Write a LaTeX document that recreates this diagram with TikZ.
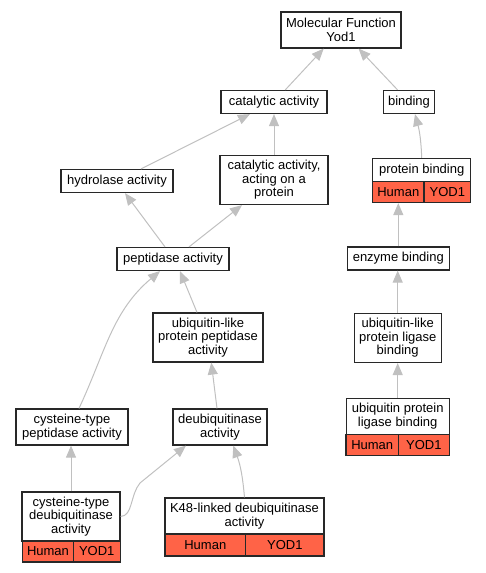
\documentclass[tikz,border=0pt]{standalone}
\usepackage{fontspec}
\setmainfont{Liberation Sans}
\usepackage{xcolor}
\usepackage{tikz}
\usetikzlibrary{arrows.meta,positioning}
\definecolor{annot}{RGB}{255,99,71}
\definecolor{edgegray}{RGB}{192,192,192}
\definecolor{boxline}{RGB}{40,40,40}

\begin{document}
\begin{tikzpicture}[
			x=1pt, y=-1pt,
			term/.style={rectangle, draw=boxline, line width=1.2pt, fill=white, inner sep=0pt, align=center, font=\fontsize{13}{13.5}\selectfont},
			annocell/.style={rectangle, draw=boxline, line width=1.2pt, fill=annot, inner sep=0pt, minimum height=21pt, font=\fontsize{13}{13.5}\selectfont},
			isa/.style={draw=edgegray, line width=1pt, -{Triangle[length=12pt, width=10pt, fill=edgegray]}}
			]
			\useasboundingbox (0,0) rectangle (485,573);
			
			% Top of the ontology
			\node[term, minimum width=120pt, minimum height=36pt] (mf) at (341,30) {Molecular Function\\Yod1};
			\node[term, minimum width=106pt, minimum height=23pt] (cat) at (274,102) {catalytic activity};
			\node[term, minimum width=51pt, minimum height=23pt] (bind) at (409,102) {binding};
			
			% Catalytic branch
			\node[term, minimum width=112pt, minimum height=23pt] (hyd) at (117,181) {hydrolase activity};
			\node[term, minimum width=108pt, minimum height=49pt] (catprot) at (274,180) {catalytic activity,\\acting on a\\protein};
			\node[term, minimum width=112pt, minimum height=23pt] (pep) at (173,259) {peptidase activity};
			\node[term, minimum width=110pt, minimum height=49pt] (ubpep) at (208,337.5) {ubiquitin-like\\protein peptidase\\activity};
			\node[term, minimum width=112pt, minimum height=36pt] (cyspep) at (72,427) {cysteine-type\\peptidase activity};
			\node[term, minimum width=94pt, minimum height=36pt] (deub) at (220,427) {deubiquitinase\\activity};
			
			% Annotated leaves (catalytic)
			\node[term, minimum width=98pt, minimum height=49pt] (cysdub) at (71,516.5) {cysteine-type\\deubiquitinase\\activity};
			\node[annocell, minimum width=51pt] (cysdubHuman) at (48,551.5) {Human};
			\node[annocell, minimum width=47pt] (cysdubYod) at (96.7,551.5) {YOD1};
			
			\node[term, minimum width=159pt, minimum height=36pt] (kfe) at (244.5,516) {K48-linked deubiquitinase\\activity};
			\node[annocell, minimum width=80.7pt, minimum height=22pt] (kfeHuman) at (205.3,545) {Human};
			\node[annocell, minimum width=78.3pt, minimum height=22pt] (kfeYod) at (284.8,545) {YOD1};
			
			% Binding branch
			\node[term, minimum width=98pt, minimum height=23pt] (pb) at (421.7,170) {protein binding};
			\node[annocell, minimum width=51.3pt] (pbHuman) at (398.3,192) {Human};
			\node[annocell, minimum width=46.7pt] (pbYod) at (447.3,192) {YOD1};
			\node[term, minimum width=102pt, minimum height=23pt] (enz) at (398.3,258.5) {enzyme binding};
			\node[term, minimum width=87pt, minimum height=49pt] (ubligb) at (397.7,338) {ubiquitin-like\\protein ligase\\binding};
			\node[term, minimum width=103pt, minimum height=36pt] (uplb) at (397.7,416.3) {ubiquitin protein\\ligase binding};
			\node[annocell, minimum width=52.3pt] (uplbHuman) at (372.2,445) {Human};
			\node[annocell, minimum width=51pt] (uplbYod) at (423.8,445) {YOD1};
			
			% is-a edges, child to parent
			\draw[isa] (cat) -- (mf);
			\draw[isa] (bind) -- (mf);
			\draw[isa] (hyd) -- (cat);
			\draw[isa] (catprot.north) -- (catprot.north |- cat.south);
			\draw[isa] (pb.north) to[out=92, in=-75] ([xshift=6pt]bind.south);
			\draw[isa] ([xshift=-8pt]pep.north) -- ([xshift=8pt]hyd.south);
			\draw[isa] ([xshift=16pt]pep.north) -- ([xshift=-32pt]catprot.south);
			\draw[isa] ([xshift=-11pt]ubpep.north) -- ([xshift=7pt]pep.south);
			\draw[isa] ([xshift=7pt]cyspep.north) to[out=65, in=-140] ([xshift=-13pt]pep.south);
			\draw[isa] ([xshift=-3pt]deub.north) -- ([xshift=3.3pt]ubpep.south);
			\draw[isa] (cysdub.north) -- (cysdub.north |- cyspep.south);
			\draw[isa] (cysdub.east) .. controls (133,516) and (130,495) .. (140,483) -- ([xshift=-34pt]deub.south);
			\draw[isa] (kfe.north) to[out=95, in=-70] ([xshift=13.3pt]deub.south);
			\draw[isa] (enz.north) -- (enz.north |- pbHuman.south);
			\draw[isa] (ubligb.north) -- (ubligb.north |- enz.south);
			\draw[isa] (uplb.north) -- (uplb.north |- ubligb.south);
			
		\end{tikzpicture}
\end{document}
